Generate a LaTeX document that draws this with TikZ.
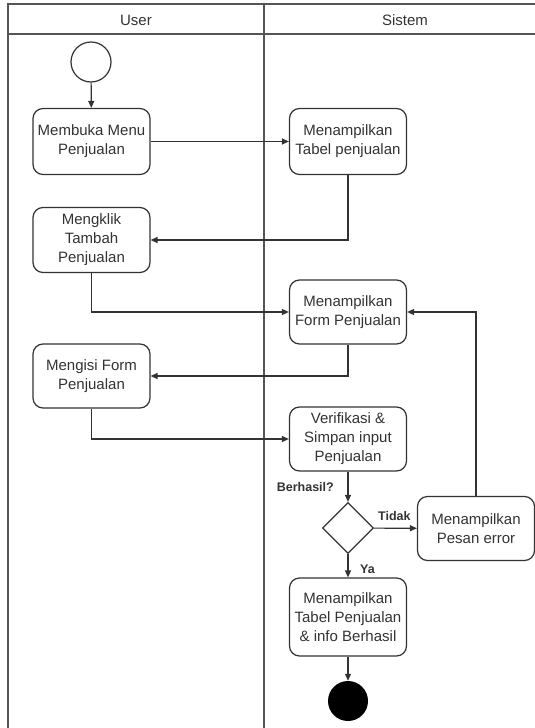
\documentclass[tikz,border=0pt]{standalone}
\usepackage{fontspec}
\setmainfont{Liberation Sans}
\usetikzlibrary{shapes.geometric,arrows.meta}
\definecolor{ln}{HTML}{333333}
\definecolor{pool}{HTML}{555555}
\definecolor{tx}{HTML}{333333}
\begin{document}
\begin{tikzpicture}[x=1pt,y=-1pt,
  act/.style={draw=ln,line width=1.2pt,rounded corners=10pt,fill=white,
    minimum width=117pt,minimum height=64pt,inner sep=0pt,align=center,
    text=tx,font=\fontsize{15}{19}\selectfont},
  arr/.style={draw=ln,line width=1.2pt,-{Triangle[length=7pt,width=6pt]}},
  lbl/.style={font=\fontsize{12.5}{14}\selectfont\bfseries,text=tx,inner sep=0pt},
  hdr/.style={font=\fontsize{15}{18}\selectfont,text=tx,inner sep=0pt},
  poolline/.style={draw=pool,line width=1.6pt}]
\useasboundingbox (0,0) rectangle (535,728);
\fill[white] (0,0) rectangle (535,728);
% pool
\draw[poolline] (8,728) -- (8,4) -- (535,4);
\draw[poolline] (8,34) -- (535,34);
\draw[poolline] (264,4) -- (264,728);
\node[hdr] (hu) at (136,20) {User};
\node[hdr] (hs) at (405,20) {Sistem};
% nodes
\node[draw=ln,line width=1.2pt,circle,minimum size=40pt,inner sep=0pt,fill=white] (start) at (91,62) {};
\node[act,minimum height=66pt] (b1) at (91.5,141.5) {Membuka Menu\\Penjualan};
\node[act,minimum height=66pt] (b2) at (348,141.5) {Menampilkan\\Tabel penjualan};
\node[act,minimum height=65pt] (b3) at (91.5,240) {Mengklik\\Tambah\\Penjualan};
\node[act] (b4) at (348,312) {Menampilkan\\Form Penjualan};
\node[act] (b5) at (91.5,376) {Mengisi Form\\Penjualan};
\node[act] (b6) at (348,439) {Verifikasi \&\\Simpan input\\Penjualan};
\node[draw=ln,line width=1.2pt,diamond,minimum width=51pt,minimum height=51pt,inner sep=0pt,fill=white] (dec) at (348,528) {};
\node[act] (err) at (476,528.5) {Menampilkan\\Pesan error};
\node[act,minimum height=78pt] (fin) at (348,617) {Menampilkan\\Tabel Penjualan\\\& info Berhasil};
\node[circle,fill=black,minimum size=40pt,inner sep=0pt] (end) at (348,701) {};
% labels
\node[lbl,anchor=east] (lb) at (334,487) {Berhasil?};
\node[lbl,anchor=west] (lt) at (378,516) {Tidak};
\node[lbl,anchor=west] (ly) at (360,569) {Ya};
% connectors
\draw[arr] (start) -- (b1);
\draw[arr] (b1) -- (b2);
\draw[arr] (b2.south) |- (b3.east);
\draw[arr] (b3.south) |- (b4.west);
\draw[arr] (b4.south) |- (b5.east);
\draw[arr] (b5.south) |- (b6.west);
\draw[arr] (b6) -- (dec);
\draw[arr] (dec) -- (err);
\draw[arr] (err.north) |- (b4.east);
\draw[arr] (dec) -- (fin);
\draw[arr] (fin) -- (end);
\end{tikzpicture}
\end{document}
